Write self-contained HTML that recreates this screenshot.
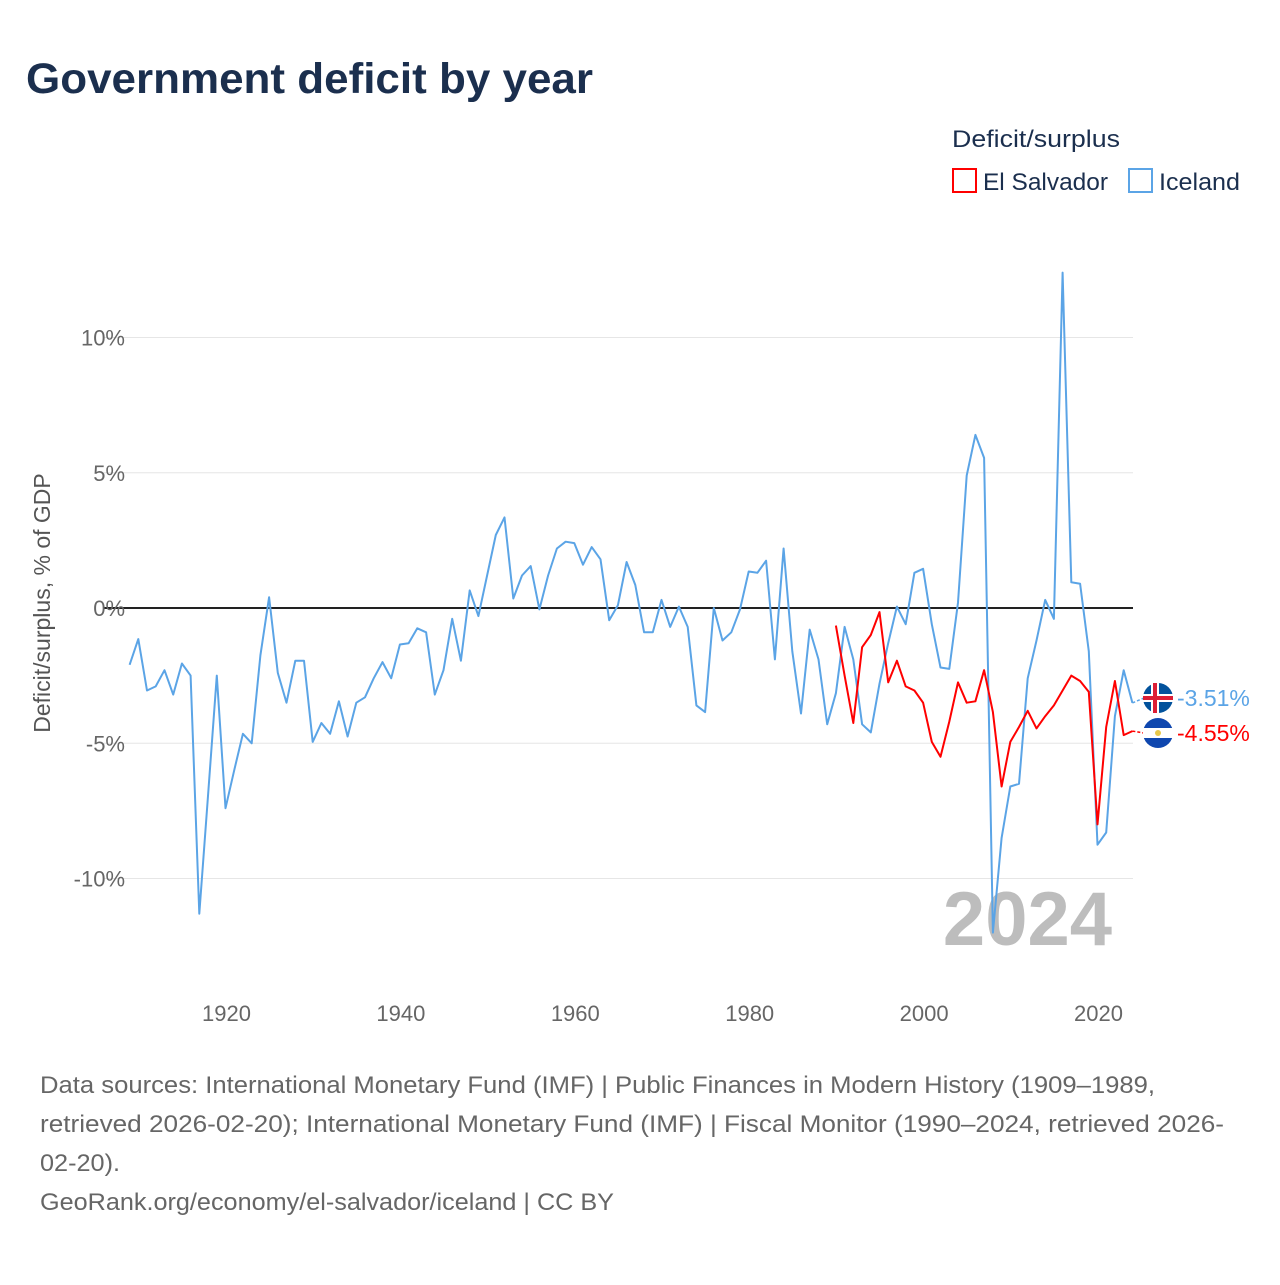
<!DOCTYPE html>
<html><head><meta charset="utf-8"><style>
body{margin:0;background:#fff;font-family:"Liberation Sans",sans-serif;}
svg text{font-family:"Liberation Sans",sans-serif;}
</style></head><body>
<svg id="chart" width="1280" height="1280" viewBox="0 0 1280 1280">
<text x="26" y="93" font-size="43" font-weight="bold" fill="#1b2f4e" textLength="567" lengthAdjust="spacingAndGlyphs">Government deficit by year</text>
<text x="952" y="147" font-size="24" fill="#1b2f4e" textLength="168" lengthAdjust="spacingAndGlyphs">Deficit/surplus</text>
<g><rect x="953" y="169" width="23" height="23" fill="none" stroke="#ff0000" stroke-width="2"/><text x="983" y="190" font-size="24" fill="#1b2f4e" textLength="125" lengthAdjust="spacingAndGlyphs">El Salvador</text></g>
<g><rect x="1129" y="169" width="23" height="23" fill="none" stroke="#5ba4e6" stroke-width="2"/><text x="1159" y="190" font-size="24" fill="#1b2f4e" textLength="81" lengthAdjust="spacingAndGlyphs">Iceland</text></g>
<g id="grid"></g><g id="yticks"></g><g id="xticks"></g>
<text transform="translate(50,603) rotate(-90)" text-anchor="middle" font-size="23" fill="#555">Deficit/surplus, % of GDP</text>
<text x="1112" y="945" text-anchor="end" font-size="76" font-weight="bold" fill="#bdbdbd">2024</text>
<g id="series"></g>
<text x="40" y="1093" font-size="24" fill="#666" textLength="1115" lengthAdjust="spacingAndGlyphs">Data sources: International Monetary Fund (IMF) | Public Finances in Modern History (1909–1989,</text>
<text x="40" y="1132" font-size="24" fill="#666" textLength="1184" lengthAdjust="spacingAndGlyphs">retrieved 2026-02-20); International Monetary Fund (IMF) | Fiscal Monitor (1990–2024, retrieved 2026-</text>
<text x="40" y="1171" font-size="24" fill="#666" textLength="80" lengthAdjust="spacingAndGlyphs">02-20).</text>
<text x="40" y="1210" font-size="24" fill="#666" textLength="574" lengthAdjust="spacingAndGlyphs">GeoRank.org/economy/el-salvador/iceland | CC BY</text>
</svg>
<script>
const icelandStart = 1909;
const icelandValues = [-2.1,-1.15,-3.05,-2.9,-2.3,-3.2,-2.05,-2.5,-11.3,-6.9,-2.5,-7.4,-6.0,-4.65,-5.0,-1.75,0.4,-2.4,-3.5,-1.95,-1.95,-4.95,-4.25,-4.65,-3.45,-4.75,-3.5,-3.3,-2.6,-2.0,-2.6,-1.35,-1.3,-0.75,-0.9,-3.2,-2.3,-0.4,-1.95,0.65,-0.3,1.2,2.7,3.35,0.35,1.2,1.55,-0.05,1.2,2.2,2.45,2.4,1.6,2.25,1.8,-0.45,0.1,1.7,0.85,-0.9,-0.9,0.3,-0.7,0.05,-0.7,-3.6,-3.85,0,-1.2,-0.9,-0.05,1.35,1.3,1.75,-1.9,2.2,-1.6,-3.9,-0.8,-1.9,-4.3,-3.15,-0.7,-1.9,-4.3,-4.6,-2.8,-1.3,0.05,-0.6,1.3,1.45,-0.6,-2.2,-2.25,0.2,4.9,6.4,5.55,-12.0,-8.5,-6.6,-6.5,-2.6,-1.2,0.3,-0.4,12.4,0.95,0.9,-1.6,-8.75,-8.3,-4.0,-2.3,-3.51];
const salvadorStart = 1990;
const salvadorValues = [-0.65,-2.5,-4.25,-1.45,-1.0,-0.15,-2.75,-1.95,-2.9,-3.05,-3.5,-4.95,-5.5,-4.2,-2.75,-3.5,-3.45,-2.3,-3.85,-6.6,-4.95,-4.4,-3.8,-4.45,-4.0,-3.6,-3.05,-2.5,-2.7,-3.1,-8.0,-4.4,-2.7,-4.7,-4.55];
const yTickValues = [10,5,0,-5,-10];
const yTickLabels = ["10%","5%","0%","-5%","-10%"];
const xTickValues = [1920,1940,1960,1980,2000,2020];

const NS="http://www.w3.org/2000/svg";
function X(yr){return 225.5+(yr-1920)*8.72;}
function Y(v){return 608-v*27.05;}
function mk(tag,attrs,parent){const e=document.createElementNS(NS,tag);for(const k in attrs)e.setAttribute(k,attrs[k]);document.getElementById(parent).appendChild(e);return e;}

yTickValues.forEach((v,i)=>{
  const l=mk('line',{x1:104,x2:1133,y1:Y(v),y2:Y(v),stroke:v===0?'#222':'#e6e6e6','stroke-width':v===0?2:1},'grid');
  
  
  const t=mk('text',{x:125,y:Y(v)+8,'text-anchor':'end','font-size':22,fill:'#666'},'yticks');
  t.textContent=yTickLabels[i];
  
  
});
xTickValues.forEach(v=>{
  const t=mk('text',{x:X(v)+1,y:1021,'text-anchor':'middle','font-size':22,fill:'#666'},'xticks');
  t.textContent=v;
  
  
});
function line(start,vals,color,name){
  const d=vals.map((v,i)=>(i?'L':'M')+X(start+i).toFixed(1)+','+Y(v).toFixed(1)).join('');
  const p=mk('path',{d:d,fill:'none',stroke:color,'stroke-width':2,'stroke-linejoin':'round'},'series');
  
  
}
line(icelandStart,icelandValues,'#5ba4e6','iceland-line');
line(salvadorStart,salvadorValues,'#ff0000','el-salvador-line');

function endLabel(start,vals,color,name,flagY,flag){
  const last=vals[vals.length-1];const yr=start+vals.length-1;
  const c=mk('line',{x1:X(yr),y1:Y(last),x2:1144,y2:flagY,stroke:color,'stroke-width':1.5,'stroke-dasharray':'3,2'},'series');
  
  
  const g=mk('g',{},'series');
  
  
  flag(g,1158,flagY);
  const t=mk('text',{x:1177,y:flagY+8,'font-size':23,fill:color},'series');
  t.textContent=last.toFixed(2)+'%';
  
  
}
function add(g,tag,a){const e=document.createElementNS(NS,tag);for(const k in a)e.setAttribute(k,a[k]);g.appendChild(e);}
endLabel(icelandStart,icelandValues,'#5ba4e6','iceland',698,(g,cx,cy)=>{
  add(g,'circle',{cx,cy,r:15,fill:'#02529c'});
  add(g,'rect',{x:cx-15,y:cy-4,width:30,height:8,fill:'#fff'});
  add(g,'rect',{x:cx-7,y:cy-15,width:8,height:30,fill:'#fff'});
  add(g,'rect',{x:cx-15,y:cy-2,width:30,height:4,fill:'#dc1e35'});
  add(g,'rect',{x:cx-5,y:cy-15,width:4,height:30,fill:'#dc1e35'});
});
endLabel(salvadorStart,salvadorValues,'#ff0000','el-salvador',733,(g,cx,cy)=>{
  add(g,'circle',{cx,cy,r:15,fill:'#0f47af'});
  add(g,'rect',{x:cx-15,y:cy-5,width:30,height:10,fill:'#fff'});
  add(g,'circle',{cx,cy,r:3,fill:'#e8c84a'});
});
</script>
</body></html>
